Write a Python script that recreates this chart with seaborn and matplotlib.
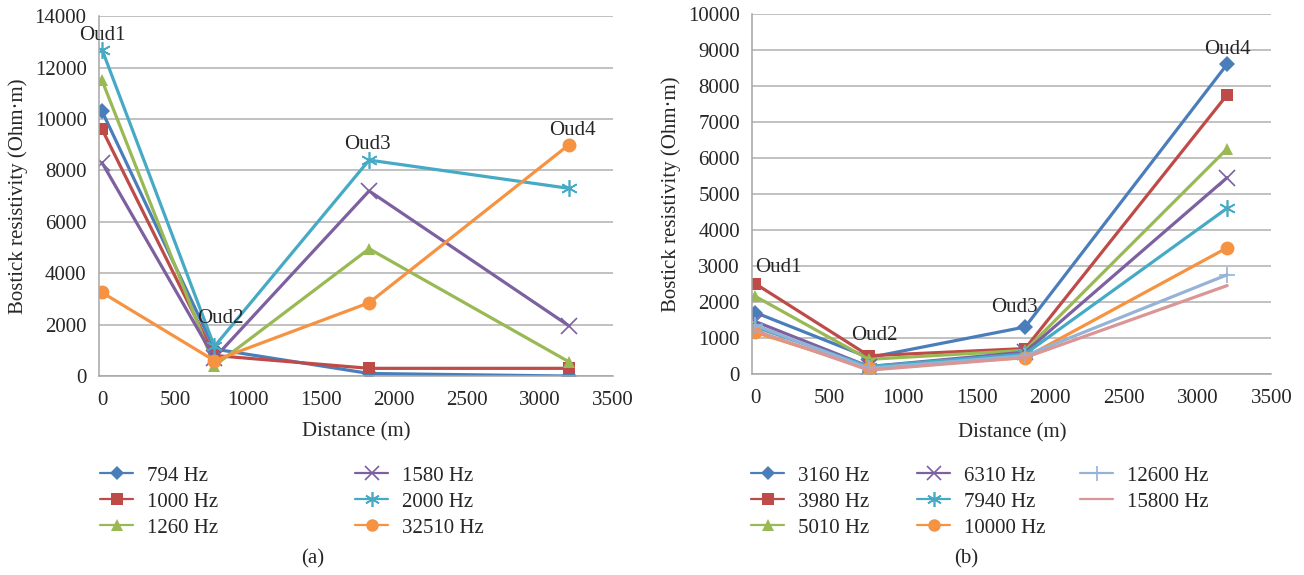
import numpy as np
import pandas as pd
import matplotlib
matplotlib.use("Agg")
import matplotlib.pyplot as plt
import seaborn as sns
from matplotlib.lines import Line2D

# === Data ===
distance = [0, 770, 1830, 3200]

freqs_a = ["794 Hz", "1000 Hz", "1260 Hz", "1580 Hz", "2000 Hz", "32510 Hz"]
res_794 = [10300, 1050, 100, 0]
res_1000 = [9600, 800, 300, 300]
res_1260 = [11500, 400, 4950, 550]
res_1580 = [8300, 700, 7200, 1950]
res_2000 = [12700, 1150, 8400, 7300]
res_32510 = [3250, 600, 2850, 9000]

freqs_b = ["3160 Hz", "3980 Hz", "5010 Hz", "6310 Hz", "7940 Hz",
           "10000 Hz", "12600 Hz", "15800 Hz"]
res_3160 = [1700, 450, 1300, 8600]
res_3980 = [2500, 500, 700, 7750]
res_5010 = [2150, 400, 650, 6250]
res_6310 = [1450, 200, 600, 5450]
res_7940 = [1300, 200, 550, 4600]
res_10000 = [1150, 150, 450, 3500]
res_12600 = [1350, 150, 500, 2750]
res_15800 = [1200, 100, 450, 2450]

site_labels = ["Oud1", "Oud2", "Oud3", "Oud4"]

# === Styling ===
colors = ["#4A7EBB", "#BE4B48", "#98B954", "#7D60A0", "#46AAC5",
          "#F59342", "#95B3D7", "#D99694"]
markers = ["D", "s", "^", "x", (6, 2, 0), "o", "+", ""]
msizes = [8, 9, 9, 11, 12, 10, 12, 0]
FS = 15

sns.set_style("white")
plt.rcParams["font.family"] = ["Liberation Serif", "DejaVu Serif"]
plt.rcParams["font.size"] = FS

fig = plt.figure(figsize=(13.04, 5.75), dpi=100)
ax_a = fig.add_axes([0.076, 0.346, 0.394, 0.626])
ax_b = fig.add_axes([0.577, 0.350, 0.398, 0.626])


def draw_panel(ax, names, series, ymax, ystep, xlab_y):
    df = pd.DataFrame({
        "Distance": np.tile(distance, len(names)),
        "Resistivity": np.concatenate(series),
        "Freq": np.repeat(names, len(distance)),
    })
    handles = []
    for i, name in enumerate(names):
        sub = df[df["Freq"] == name]
        mk = markers[i] if markers[i] != "" else None
        thin = mk in ("x", "+", (6, 2, 0))
        sns.lineplot(data=sub, x="Distance", y="Resistivity", ax=ax,
                     color=colors[i], lw=2.3, marker=mk, ms=msizes[i],
                     mew=1.2 if thin else 0, mec=colors[i],
                     estimator=None, sort=False, legend=False)
        handles.append(Line2D([], [], color=colors[i], lw=1.6, marker=mk,
                              ms=msizes[i] * 0.9, mec=colors[i],
                              mew=1.2 if thin else 0))
    ax.set_xlim(-20, 3500)
    ax.set_ylim(0, ymax)
    ax.set_xticks(np.arange(0, 3501, 500))
    ax.set_yticks(np.arange(0, ymax + 1, ystep))
    ax.yaxis.grid(True, color="#B0B0B0", lw=1.1)
    ax.xaxis.grid(False)
    for s in ["top", "right"]:
        ax.spines[s].set_visible(False)
    for s in ["left", "bottom"]:
        ax.spines[s].set_color("#A6A6A6")
        ax.spines[s].set_linewidth(1.1)
    ax.tick_params(axis="x", direction="out", length=6, color="#A6A6A6",
                   labelsize=FS, pad=5)
    ax.tick_params(axis="y", length=0, labelsize=FS, pad=9)
    ax.set_xlabel("Distance (m)", fontsize=FS)
    ax.set_ylabel("Bostick resistivity (Ohm\u00b7m)", fontsize=FS)
    ax.yaxis.set_label_coords(-0.138, 0.5)
    ax.xaxis.set_label_coords(0.5, xlab_y)
    ax.set_axisbelow(True)
    return handles


series_a = [res_794, res_1000, res_1260, res_1580, res_2000, res_32510]
series_b = [res_3160, res_3980, res_5010, res_6310, res_7940, res_10000,
            res_12600, res_15800]

h_a = draw_panel(ax_a, freqs_a, series_a, 14000, 2000, -0.128)
h_b = draw_panel(ax_b, freqs_b, series_b, 10000, 1000, -0.138)

# site annotations
pos_a = [(0, 13250), (810, 2250), (1820, 9000), (3220, 9550)]
pos_b = [(155, 2940), (808, 1050), (1757, 1830), (3204, 9000)]
for lab, (x, y) in zip(site_labels, pos_a):
    ax_a.text(x, y, lab, ha="center", va="center", fontsize=FS, clip_on=False)
for lab, (x, y) in zip(site_labels, pos_b):
    ax_b.text(x, y, lab, ha="center", va="center", fontsize=FS, clip_on=False)


# legends: one per column, placed like the original layout
def column_legend(handles, labels, x_px):
    fig.legend(handles, labels, loc="upper left",
               bbox_to_anchor=(x_px / 1304, 1 - 466 / 575),
               frameon=False, fontsize=FS, handlelength=1.6,
               handletextpad=0.65, labelspacing=0.31,
               borderaxespad=0, borderpad=0)


column_legend(h_a[:3], freqs_a[:3], 100)
column_legend(h_a[3:], freqs_a[3:], 355)
column_legend(h_b[:3], freqs_b[:3], 751)
column_legend(h_b[3:6], freqs_b[3:6], 917)
column_legend(h_b[6:], freqs_b[6:], 1080)

fig.text(313 / 1304, 1 - 559 / 575, "(a)", ha="center", va="center", fontsize=FS)
fig.text(966 / 1304, 1 - 559 / 575, "(b)", ha="center", va="center", fontsize=FS)

fig.savefig("out.png", dpi=100)
